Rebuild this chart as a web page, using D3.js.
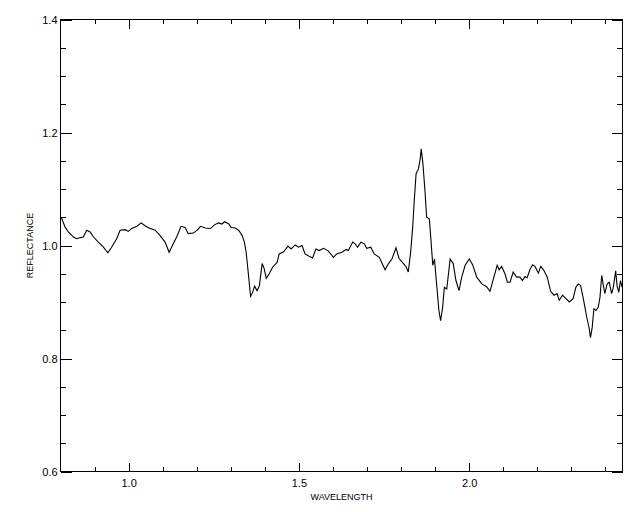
<!DOCTYPE html>
<html>
<head>
<meta charset="utf-8">
<script src="https://cdn.jsdelivr.net/npm/d3@7"></script>
<style>
  html, body { margin: 0; padding: 0; background: #fff; }
  svg { display: block; }
  text { font-family: "Liberation Sans", Arial, Helvetica, sans-serif; fill: #000; }
</style>
</head>
<body>
<svg id="chart" width="640" height="512"></svg>
<script>
const wavelength = [
  0.802,0.814,0.823,0.838,0.848,0.858,0.867,0.877,0.887,0.897,
  0.911,0.926,0.939,0.950,0.965,0.975,0.990,0.999,1.009,1.024,
  1.037,1.048,1.060,1.078,1.092,1.107,1.119,1.131,1.141,1.154,
  1.166,1.175,1.190,1.203,1.211,1.225,1.240,1.253,1.264,1.274,
  1.282,1.294,1.301,1.313,1.323,1.333,1.340,1.345,1.349,1.354,
  1.358,1.364,1.370,1.377,1.384,1.392,1.398,1.404,1.413,1.423,
  1.436,1.442,1.455,1.468,1.477,1.489,1.499,1.509,1.518,1.530,
  1.540,1.550,1.560,1.572,1.585,1.595,1.601,1.611,1.626,1.639,
  1.645,1.658,1.665,1.672,1.682,1.692,1.699,1.711,1.721,1.736,
  1.743,1.753,1.763,1.773,1.785,1.794,1.807,1.815,1.821,1.828,
  1.834,1.838,1.844,1.851,1.856,1.859,1.864,1.870,1.875,1.883,
  1.887,1.893,1.898,1.905,1.911,1.916,1.922,1.927,1.934,1.944,
  1.953,1.961,1.970,1.978,1.988,2.000,2.010,2.022,2.037,2.051,
  2.061,2.071,2.082,2.088,2.095,2.105,2.112,2.120,2.129,2.139,
  2.149,2.156,2.164,2.170,2.178,2.186,2.193,2.203,2.210,2.219,
  2.229,2.239,2.249,2.258,2.264,2.274,2.284,2.294,2.305,2.313,
  2.320,2.327,2.335,2.345,2.352,2.356,2.361,2.366,2.372,2.379,
  2.384,2.389,2.393,2.398,2.405,2.411,2.418,2.423,2.430,2.434,
  2.439,2.444,2.449
];
const reflectance = [
  1.050,1.032,1.024,1.015,1.012,1.014,1.015,1.027,1.024,1.015,
  1.006,0.997,0.987,0.997,1.012,1.027,1.028,1.025,1.030,1.034,
  1.040,1.035,1.031,1.027,1.018,1.006,0.988,1.003,1.015,1.034,
  1.032,1.021,1.022,1.028,1.034,1.031,1.030,1.037,1.040,1.038,
  1.042,1.038,1.032,1.031,1.027,1.018,1.006,0.988,0.965,0.935,
  0.910,0.917,0.928,0.920,0.929,0.968,0.959,0.942,0.950,0.962,
  0.970,0.985,0.989,0.999,0.994,1.001,0.997,1.000,0.985,0.981,
  0.978,0.994,0.991,0.995,0.991,0.984,0.979,0.985,0.988,0.993,
  0.991,1.006,1.003,0.997,1.006,1.003,0.995,0.997,0.985,0.979,
  0.970,0.957,0.968,0.976,0.996,0.977,0.968,0.962,0.953,0.988,
  1.032,1.074,1.127,1.136,1.153,1.171,1.145,1.097,1.050,1.047,
  1.015,0.965,0.976,0.926,0.885,0.867,0.891,0.926,0.923,0.976,
  0.968,0.938,0.920,0.944,0.965,0.976,0.966,0.944,0.932,0.927,
  0.919,0.941,0.965,0.957,0.963,0.950,0.935,0.935,0.953,0.944,
  0.944,0.938,0.945,0.943,0.957,0.966,0.963,0.951,0.963,0.956,
  0.944,0.919,0.912,0.915,0.903,0.912,0.906,0.900,0.906,0.926,
  0.932,0.929,0.906,0.873,0.854,0.837,0.855,0.888,0.885,0.891,
  0.909,0.947,0.932,0.915,0.932,0.935,0.915,0.926,0.955,0.929,
  0.917,0.938,0.926
];
const xMajorTicks = [1.0, 1.5, 2.0];
const xMinorTicks = [0.9, 1.1, 1.2, 1.3, 1.4, 1.6, 1.7, 1.8, 1.9, 2.1, 2.2, 2.3, 2.4];
const yMajorTicks = [0.6, 0.8, 1.0, 1.2, 1.4];
const yMinorTicks = [0.65, 0.7, 0.75, 0.85, 0.9, 0.95, 1.05, 1.1, 1.15, 1.25, 1.3, 1.35];
const xLabel = "WAVELENGTH";
const yLabel = "REFLECTANCE";

(function () {
  const pL = 60.5, pR = 622.5, pT = 19.5, pB = 471.5;
  const svg = d3.select("#chart");

  const x = d3.scaleLinear().domain([0.8, 2.45]).range([pL, pR]);
  const y = d3.scaleLinear().domain([0.6, 1.4]).range([pB, pT]);

  const fmt = d3.format(".1f");
  const xTickLen = 9, yTickLen = 11;

  function style(g) {
    g.select(".domain").remove();
    g.selectAll("line").attr("stroke", "#000").attr("stroke-width", 1).attr("shape-rendering", "crispEdges");
    g.selectAll("text").attr("font-size", 11).attr("font-family", "Liberation Sans, Arial, sans-serif");
  }

  // bottom axis
  svg.append("g").attr("transform", `translate(0,${pB})`)
    .call(d3.axisBottom(x).tickValues(xMajorTicks).tickSize(-xTickLen).tickPadding(8).tickFormat(fmt)).call(style);
  svg.append("g").attr("transform", `translate(0,${pB})`)
    .call(d3.axisBottom(x).tickValues(xMinorTicks).tickSize(-xTickLen / 2).tickFormat("")).call(style);
  // top axis
  svg.append("g").attr("transform", `translate(0,${pT})`)
    .call(d3.axisTop(x).tickValues(xMajorTicks).tickSize(-xTickLen).tickFormat("")).call(style);
  svg.append("g").attr("transform", `translate(0,${pT})`)
    .call(d3.axisTop(x).tickValues(xMinorTicks).tickSize(-xTickLen / 2).tickFormat("")).call(style);
  // left axis
  svg.append("g").attr("transform", `translate(${pL},0)`)
    .call(d3.axisLeft(y).tickValues(yMajorTicks).tickSize(-yTickLen).tickPadding(3).tickFormat(fmt)).call(style);
  svg.append("g").attr("transform", `translate(${pL},0)`)
    .call(d3.axisLeft(y).tickValues(yMinorTicks).tickSize(-yTickLen / 2).tickFormat("")).call(style);
  // right axis
  svg.append("g").attr("transform", `translate(${pR},0)`)
    .call(d3.axisRight(y).tickValues(yMajorTicks).tickSize(-yTickLen).tickFormat("")).call(style);
  svg.append("g").attr("transform", `translate(${pR},0)`)
    .call(d3.axisRight(y).tickValues(yMinorTicks).tickSize(-yTickLen / 2).tickFormat("")).call(style);

  // frame
  svg.append("rect")
    .attr("x", pL).attr("y", pT)
    .attr("width", pR - pL).attr("height", pB - pT)
    .attr("fill", "none").attr("stroke", "#000").attr("stroke-width", 1.5)
    .attr("shape-rendering", "crispEdges");

  // data line
  const pts = wavelength.map((w, i) => [w, reflectance[i]]);
  const line = d3.line().x(d => x(d[0])).y(d => y(d[1]));
  svg.append("path").datum(pts)
    .attr("d", line)
    .attr("fill", "none").attr("stroke", "#000").attr("stroke-width", 1.1)
    .attr("stroke-linejoin", "miter");

  // axis titles
  svg.append("text")
    .attr("x", (pL + pR) / 2).attr("y", 500)
    .attr("text-anchor", "middle").attr("font-size", 9)
    .text(xLabel);
  svg.append("text")
    .attr("transform", `translate(33,${(pT + pB) / 2}) rotate(-90)`)
    .attr("text-anchor", "middle").attr("font-size", 9)
    .text(yLabel);
})();
</script>
</body>
</html>
